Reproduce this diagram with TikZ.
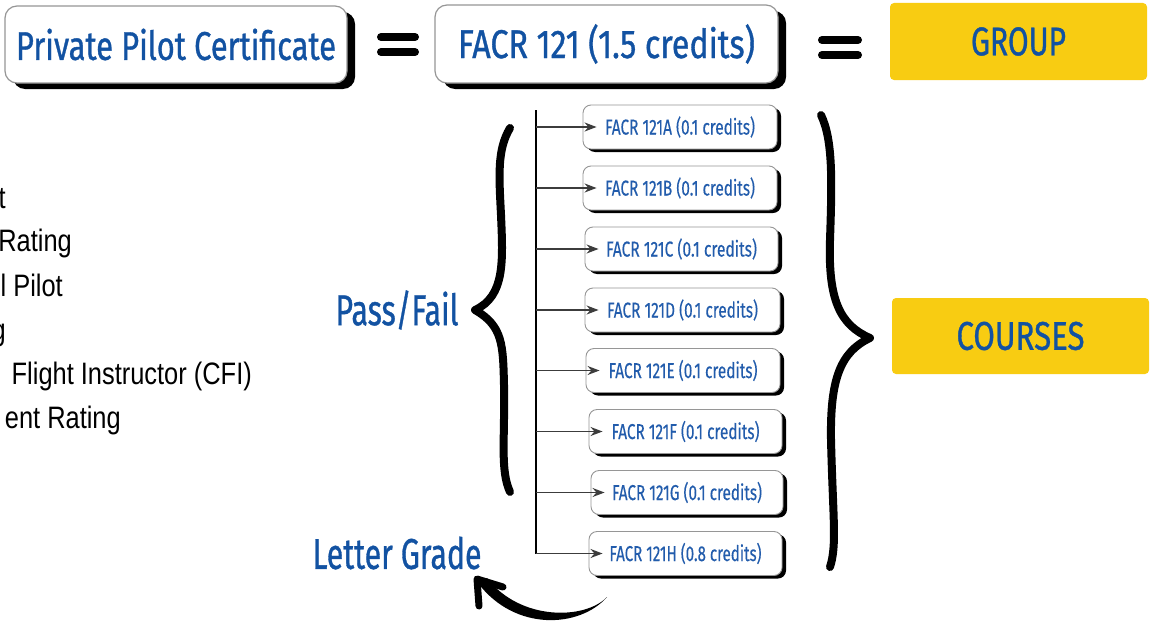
\documentclass[tikz,border=0pt]{standalone}
\usepackage{fontspec}
\usepackage{graphicx}
\usetikzlibrary{arrows.meta,shadows}
\newfontfamily\osw[FakeBold=1.0]{Fira Sans}
\newfontfamily\oswsm[FakeBold=0.3]{Fira Sans}
\newfontfamily\narrowsans[FakeStretch=0.82]{Liberation Sans}
\newcommand{\fitw}[2]{\resizebox{#1}{\height}{#2}}
\definecolor{navy}{RGB}{18,82,162}
\definecolor{lightnavy}{RGB}{34,92,172}
\definecolor{gold}{RGB}{248,204,18}
\definecolor{edgegray}{RGB}{150,150,150}
\definecolor{arrgray}{RGB}{60,60,60}
\tikzset{
  bigbox/.style={draw=edgegray, line width=1.2pt, fill=white, rounded corners=12pt, inner sep=0pt,
    drop shadow={shadow xshift=8pt, shadow yshift=-6pt, fill=black, opacity=1},
    font=\osw\fontsize{40}{44}\selectfont, text=navy},
  goldbox/.style={fill=gold, rounded corners=4pt, inner sep=0pt,
    font=\osw\fontsize{40}{44}\selectfont, text=navy},
  smallbox/.style={draw=edgegray, line width=0.9pt, fill=white, rounded corners=8pt, inner sep=0pt,
    minimum height=44pt,
    drop shadow={shadow xshift=4pt, shadow yshift=-3pt, fill=black, opacity=1},
    font=\oswsm\fontsize{21.5}{24}\selectfont, text=lightnavy},
  eqbar/.style={line width=8pt, line cap=round, black},
  brace/.style={line width=8pt, line cap=round, line join=round, black},
  trunk/.style={line width=2.8pt, black},
  feed/.style={line width=1.5pt, arrgray, -{Stealth[length=12pt,width=9pt]}},
  lefttext/.style={font=\narrowsans\fontsize{31}{34}\selectfont, anchor=base east, inner sep=0pt},
  bigword/.style={font=\osw\fontsize{43}{46}\selectfont, text=navy, inner sep=0pt}
}
\begin{document}
\begin{tikzpicture}[x=1pt,y=-1pt]
\clip (0,0) rectangle (1150,626);
\fill[white] (0,0) rectangle (1150,626);

% left list (cut off by the picture edge)
\node[lefttext] (l1) at (6,208) {t};
\node[lefttext] (l2) at (72,251) {Rating};
\node[lefttext] (l3) at (63,296) {l Pilot};
\node[lefttext] (l4) at (6,340) {g};
\node[lefttext] (l5) at (252,384) {Flight Instructor (CFI)};
\node[lefttext] (l6) at (121,428) {ent Rating};

% top row
\node[bigbox, minimum width=342pt, minimum height=77pt] (ppc) at (176,44.5) {\fitw{320pt}{Private Pilot Certificate}};
\node[bigbox, minimum width=343pt, minimum height=78pt] (facr) at (606.5,44) {\fitw{297pt}{FACR 121 (1.5 credits)}};
\node[goldbox, minimum width=257pt, minimum height=77pt] (group) at (1018.5,41.5) {\fitw{95pt}{GROUP}};

\draw[eqbar] (381,37) -- (415,37);
\draw[eqbar] (381,52) -- (415,52);
\draw[eqbar] (822,40) -- (858,40);
\draw[eqbar] (822,55) -- (858,55);

% courses
\node[smallbox, minimum width=194pt] (ca) at (680,127) {\fitw{150pt}{FACR 121A (0.1 credits)}};
\node[smallbox, minimum width=194pt] (cb) at (680,188) {\fitw{150pt}{FACR 121B (0.1 credits)}};
\node[smallbox, minimum width=193pt] (cc) at (681.5,249) {\fitw{151pt}{FACR 121C (0.1 credits)}};
\node[smallbox, minimum width=195pt] (cd) at (682.5,310) {\fitw{151pt}{FACR 121D (0.1 credits)}};
\node[smallbox, minimum width=194pt] (ce) at (683,370.5) {\fitw{149pt}{FACR 121E (0.1 credits)}};
\node[smallbox, minimum width=193pt] (cf) at (685.5,431.5) {\fitw{148pt}{FACR 121F (0.1 credits)}};
\node[smallbox, minimum width=192pt] (cg) at (687,492.5) {\fitw{150pt}{FACR 121G (0.1 credits)}};
\node[smallbox, minimum width=193pt] (ch) at (685.5,553.5) {\fitw{152pt}{FACR 121H (0.8 credits)}};

\coordinate (ttop) at (536,110);
\coordinate (tbot) at (536,553.5);
\draw[trunk] (ttop) -- (tbot);
\foreach \c in {ca,cb,cc,cd,ce,cf,cg,ch}{
  \draw[feed] (ttop |- \c.west) -- ([xshift=14pt]\c.west);
}

% braces
\draw[brace] (510,128) .. controls (497,150) and (499,175) .. (501,215)
  .. controls (503,262) and (505,296) .. (475,310)
  .. controls (503,326) and (503,345) .. (504,385)
  .. controls (505,440) and (500,470) .. (510,492);
\draw[brace] (821,115) .. controls (833,140) and (832,180) .. (830,240)
  .. controls (828,300) and (840,325) .. (870,338)
  .. controls (840,352) and (830,380) .. (831,440)
  .. controls (833,520) and (837,545) .. (830,567);

% labels
\node[bigword] (pf) at (397,310) {\fitw{123pt}{Pass/Fail}};
\node[bigword] (lg) at (397,553) {\fitw{169pt}{Letter Grade}};
\node[goldbox, minimum width=257pt, minimum height=76pt] (courses) at (1020.5,336) {\fitw{128pt}{COURSES}};

% curved arrow
\fill[black] (607,597) .. controls (580,628) and (515,632) .. (478,583)
  -- (487,578) .. controls (520,621) and (585,620) .. (607,597) -- cycle;
\draw[brace, line width=7pt] (479,606) -- (477,579) -- (503,587);
\end{tikzpicture}
\end{document}
